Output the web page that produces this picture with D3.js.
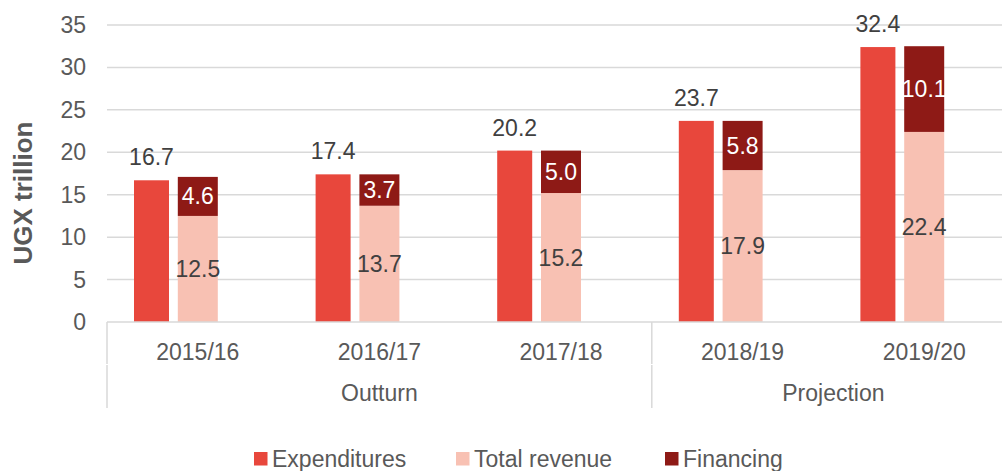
<!DOCTYPE html>
<html>
<head>
<meta charset="utf-8">
<script src="https://cdn.jsdelivr.net/npm/d3@7"></script>
<style>
  body { margin: 0; background: #fff; }
  svg { display: block; font-family: "Liberation Sans", Arial, sans-serif; }
</style>
</head>
<body>
<script>
// Fiscal years and the group each one sits in
var years = ['2015/16', '2016/17', '2017/18', '2018/19', '2019/20'];
var groups = ['Outturn', 'Outturn', 'Outturn', 'Projection', 'Projection'];
var groupNames = ['Outturn', 'Projection'];

// Values in UGX trillion
var expenditures = [16.7, 17.4, 20.2, 23.7, 32.4];
var revenue = [12.5, 13.7, 15.2, 17.9, 22.4];
var financing = [4.6, 3.7, 5.0, 5.8, 10.1];

var yTicks = [0, 5, 10, 15, 20, 25, 30, 35];
var seriesNames = ['Expenditures', 'Total revenue', 'Financing'];
var colors = ['#e8473c', '#f8c1b3', '#8e1a16'];

var width = 1002, height = 471;
var left = 107, right = 1002;

var svg = d3.select('body').append('svg')
  .attr('width', width)
  .attr('height', height);

// Category bands run a little past the right edge, like the original
var x = d3.scaleBand().domain(years).range([left, 1015]).padding(0);
var y = d3.scaleLinear().domain([0, 35]).range([322, 25]);

var expWidth = 35, revWidth = 40, expOffset = -46.3;

// Gridlines
svg.append('g').selectAll('line')
  .data(yTicks.filter(function(t) { return t > 0; }))
  .enter().append('line')
  .attr('x1', left).attr('x2', right)
  .attr('y1', function(d) { return y(d); })
  .attr('y2', function(d) { return y(d); })
  .attr('stroke', '#d9d9d9')
  .attr('stroke-width', 1.5);

// Y axis labels
svg.append('g').selectAll('text')
  .data(yTicks)
  .enter().append('text')
  .attr('x', 86)
  .attr('y', function(d) { return y(d); })
  .attr('dy', '0.35em')
  .attr('text-anchor', 'end')
  .attr('fill', '#595959')
  .attr('font-size', 23)
  .text(function(d) { return d; });

// Y axis title
svg.append('text')
  .attr('transform', 'translate(32,193) rotate(-90)')
  .attr('text-anchor', 'middle')
  .attr('fill', '#595959')
  .attr('font-size', 26)
  .attr('font-weight', 'bold')
  .text('UGX trillion');

// Bars
var bars = svg.append('g');

bars.selectAll('rect.exp')
  .data(years)
  .enter().append('rect')
  .attr('class', 'exp')
  .attr('x', function(d) { return x(d) + x.bandwidth() / 2 + expOffset - expWidth / 2; })
  .attr('width', expWidth)
  .attr('y', function(d, i) { return y(expenditures[i]); })
  .attr('height', function(d, i) { return y(0) - y(expenditures[i]); })
  .attr('fill', colors[0]);

bars.selectAll('rect.rev')
  .data(years)
  .enter().append('rect')
  .attr('class', 'rev')
  .attr('x', function(d) { return x(d) + x.bandwidth() / 2 - revWidth / 2; })
  .attr('width', revWidth)
  .attr('y', function(d, i) { return y(revenue[i]); })
  .attr('height', function(d, i) { return y(0) - y(revenue[i]); })
  .attr('fill', colors[1]);

bars.selectAll('rect.fin')
  .data(years)
  .enter().append('rect')
  .attr('class', 'fin')
  .attr('x', function(d) { return x(d) + x.bandwidth() / 2 - revWidth / 2; })
  .attr('width', revWidth)
  .attr('y', function(d, i) { return y(revenue[i] + financing[i]); })
  .attr('height', function(d, i) { return y(revenue[i]) - y(revenue[i] + financing[i]); })
  .attr('fill', colors[2]);

// Data labels
var labels = svg.append('g').attr('font-size', 23).attr('text-anchor', 'middle');

labels.selectAll('text.exp')
  .data(years)
  .enter().append('text')
  .attr('class', 'exp')
  .attr('x', function(d) { return x(d) + x.bandwidth() / 2 + expOffset; })
  .attr('y', function(d, i) { return y(expenditures[i]) - 15; })
  .attr('fill', '#404040')
  .text(function(d, i) { return expenditures[i].toFixed(1); });

labels.selectAll('text.rev')
  .data(years)
  .enter().append('text')
  .attr('class', 'rev')
  .attr('x', function(d) { return x(d) + x.bandwidth() / 2; })
  .attr('y', function(d, i) { return y(revenue[i] / 2); })
  .attr('dy', '0.35em')
  .attr('fill', '#404040')
  .text(function(d, i) { return revenue[i].toFixed(1); });

labels.selectAll('text.fin')
  .data(years)
  .enter().append('text')
  .attr('class', 'fin')
  .attr('x', function(d) { return x(d) + x.bandwidth() / 2; })
  .attr('y', function(d, i) { return y(revenue[i] + financing[i] / 2); })
  .attr('dy', '0.35em')
  .attr('fill', '#ffffff')
  .text(function(d, i) { return financing[i].toFixed(1); });

// X axis line and group dividers
var axis = svg.append('g').attr('stroke', '#d9d9d9').attr('stroke-width', 1.5);
axis.append('line')
  .attr('x1', left).attr('x2', right)
  .attr('y1', y(0)).attr('y2', y(0));

var dividers = [x(years[0]), x(years[3])];
dividers.forEach(function(dx) {
  axis.append('line').attr('x1', dx).attr('x2', dx).attr('y1', y(0)).attr('y2', 364);
  axis.append('line').attr('x1', dx).attr('x2', dx).attr('y1', 365).attr('y2', 408);
});

// Category labels
svg.append('g').selectAll('text')
  .data(years)
  .enter().append('text')
  .attr('x', function(d) { return x(d) + x.bandwidth() / 2; })
  .attr('y', 352)
  .attr('dy', '0.35em')
  .attr('text-anchor', 'middle')
  .attr('fill', '#595959')
  .attr('font-size', 23)
  .text(function(d) { return d; });

// Group labels, centred over their categories
svg.append('g').selectAll('text')
  .data(groupNames)
  .enter().append('text')
  .attr('x', function(g) {
    var members = years.filter(function(d, i) { return groups[i] === g; });
    return (x(members[0]) + x(members[members.length - 1]) + x.bandwidth()) / 2;
  })
  .attr('y', 393)
  .attr('dy', '0.35em')
  .attr('text-anchor', 'middle')
  .attr('fill', '#595959')
  .attr('font-size', 23)
  .text(function(g) { return g; });

// Legend (nudged up a little so the descenders stay inside the frame)
var legendX = [254, 456, 665];
var legend = svg.append('g').selectAll('g')
  .data(seriesNames)
  .enter().append('g')
  .attr('transform', function(d, i) { return 'translate(' + legendX[i] + ',452)'; });

legend.append('rect')
  .attr('width', 13.5).attr('height', 13.5)
  .attr('fill', function(d, i) { return colors[i]; });

legend.append('text')
  .attr('x', 18)
  .attr('y', 7)
  .attr('dy', '0.35em')
  .attr('fill', '#595959')
  .attr('font-size', 23)
  .text(function(d) { return d; });
</script>
</body>
</html>
